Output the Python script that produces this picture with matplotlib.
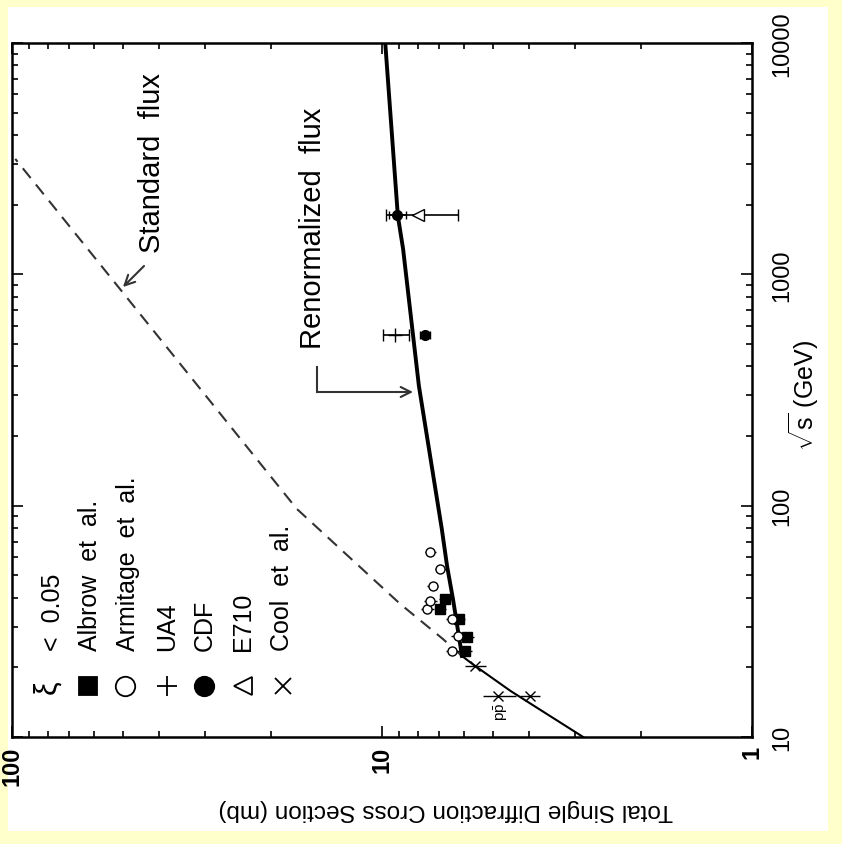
import numpy as np
import matplotlib
matplotlib.use('Agg')
import matplotlib.pyplot as plt
from matplotlib.patches import Rectangle

plt.rcParams['font.family'] = ['Liberation Sans', 'DejaVu Sans']
plt.rcParams['mathtext.fontset'] = 'custom'
plt.rcParams['mathtext.rm'] = 'Liberation Sans'
plt.rcParams['mathtext.it'] = 'Liberation Sans:italic'

# curves (sqrt(s) in GeV, sigma in mb)
common_s = [10, 15.8, 20.7, 22.4]
common_sig = [2.86, 4.49, 5.7, 6.08]
renorm_s = [22.4, 27.4, 39.5, 54.8, 79, 330, 1288, 1786, 10000]
renorm_sig = [6.08, 6.2, 6.43, 6.67, 6.89, 7.95, 8.77, 9.06, 9.8]
standard_s = [22.4, 26.5, 37.6, 96.9, 865, 3155]
standard_sig = [6.08, 6.84, 8.93, 17.0, 51.1, 98.0]

# data points
albrow_s = [23.5, 27.0, 32.4, 35.7, 39.5]
albrow_sig = [5.95, 5.9, 6.2, 6.95, 6.75]
albrow_err = [0.25, 0.25, 0.25, 0.25, 0.25]
armitage_s = [23.5, 27.4, 32.4, 35.7, 38.7, 45.0, 53.0, 63.0]
armitage_sig = [6.45, 6.25, 6.45, 7.55, 7.4, 7.3, 6.95, 7.4]
armitage_err = [0.25, 0.25, 0.25, 0.3, 0.3, 0.25, 0.25, 0.25]
ua4_s = [546]
ua4_sig = [9.2]
ua4_err = [0.75]
cdf_s = [546, 1800]
cdf_sig = [7.65, 9.1]
cdf_err = [0.25, 0.5]
e710_s = [1800]
e710_sig = [8.0]
e710_err = [1.75]
cool_s = [20.3, 15.0, 15.0]
cool_sig = [5.6, 4.85, 3.98]
cool_err = [0.35, 0.5, 0.25]

fig = plt.figure(figsize=(8.42, 8.45), dpi=100)
fig.patch.set_facecolor('#FFFFCC')
fig.patches.append(Rectangle((8/842, 13/845), 820/842, 824/845, transform=fig.transFigure,
                             facecolor='white', edgecolor='none', zorder=-10))

ax = fig.add_axes([12/842, 1 - 738/845, 740/842, 694/845])
ax.set_zorder(5)
ax.set_xscale('log')
ax.set_yscale('log')
ax.set_xlim(100, 1)
ax.set_ylim(10, 10000)

# curves
ax.plot(common_sig, common_s, color='black', lw=1.5)
ax.plot(renorm_sig, renorm_s, color='black', lw=2.8)
ax.plot(standard_sig, standard_s, color='#333333', lw=1.5, dashes=(6, 4))

# data
ax.errorbar(albrow_sig, albrow_s, xerr=albrow_err, fmt='s', color='black', ms=6.5, lw=1, capsize=0)
ax.errorbar(armitage_sig, armitage_s, xerr=armitage_err, fmt='o', mfc='white', mec='black',
            color='black', ms=6.5, lw=1, capsize=0)
ax.errorbar(ua4_sig, ua4_s, xerr=ua4_err, fmt='+', color='black', ms=10, lw=1.2, capsize=4)
ax.errorbar(cdf_sig, cdf_s, xerr=cdf_err, fmt='o', color='black', ms=7, lw=1.2, capsize=3)
ax.errorbar(e710_sig, e710_s, xerr=e710_err, fmt='<', mfc='white', mec='black',
            color='black', ms=9, lw=1.2, capsize=4)
ax.errorbar(cool_sig, cool_s, xerr=cool_err, fmt='x', color='black', ms=7, lw=1, capsize=0)

# ticks
ax.set_xticks([1, 10, 100])
ax.set_xticklabels(['1', '10', '100'], rotation=90, fontweight='bold', fontsize=17)
ax.set_yticks([10, 100, 1000, 10000])
ax.set_yticklabels(['10', '100', '1000', '10000'], rotation=90, fontsize=17, va='center')
ax.tick_params(which='both', direction='in', top=True, bottom=True, left=True, right=True,
               labelleft=False, labelright=True, width=1.2)
ax.tick_params(which='major', length=8)
ax.tick_params(which='minor', length=4)
ax.tick_params(axis='y', pad=14)
ax.tick_params(axis='x', pad=6)
for sp in ax.spines.values():
    sp.set_linewidth(1.8)

fig.text(804/842, 1 - 395/845, r'$\sqrt{\mathregular{s}}$ (GeV)', rotation=90,
         ha='center', va='center', fontsize=18)
fig.text(446/842, 1 - 810/845, 'Total Single Diffraction Cross Section (mb)', rotation=180,
         ha='center', va='center', fontsize=17.5)


def axfrac(px, py):
    return ((px - 12) / 740, (738 - py) / 694)


# annotations
ax.text(*axfrac(152, 163), 'Standard  flux', transform=ax.transAxes, rotation=90,
        ha='center', va='center', fontsize=21)
ax.annotate('', xy=axfrac(121, 290), xycoords='axes fraction', xytext=axfrac(146, 265),
            textcoords='axes fraction',
            arrowprops=dict(arrowstyle='->', color='#333333', lw=1.5, mutation_scale=18))
ax.text(*axfrac(313, 228), 'Renormalized  flux', transform=ax.transAxes, rotation=90,
        ha='center', va='center', fontsize=21)
bx0, by0 = axfrac(317, 368)
bx1, by1 = axfrac(317, 393)
ax.plot([bx0, bx1], [by0, by1], color='#333333', lw=1.5, transform=ax.transAxes)
ax.annotate('', xy=axfrac(413, 393), xycoords='axes fraction', xytext=(bx1, by1),
            textcoords='axes fraction',
            arrowprops=dict(arrowstyle='->', color='#333333', lw=1.5, mutation_scale=18,
                            shrinkA=0, shrinkB=0))
ax.text(*axfrac(501, 712), r'p$\bar{\mathregular{p}}$', transform=ax.transAxes, rotation=90,
        ha='center', va='center', fontsize=11)

# legend drawn by hand (rotated)
leg_x = [47, 88, 125, 167, 204, 243, 283]
leg_labels = ['<  0.05', 'Albrow  et  al.', 'Armitage  et  al.', 'UA4', 'CDF', 'E710', 'Cool  et  al.']
leg_text_x = [53, 90, 128, 167, 205, 243, 282]
ax.text(*axfrac(leg_x[0], 687), '\u03be', transform=ax.transAxes, rotation=90,
        ha='center', va='center', fontsize=22)
marker_styles = [('s', 'black', 13), ('o', 'white', 14), ('+', 'black', 14),
                 ('o', 'black', 14), ('<', 'white', 13), ('x', 'black', 12)]
for i, (m, fc, ms) in enumerate(marker_styles):
    mx, my = axfrac(leg_x[i + 1], 687)
    ax.plot([mx], [my], marker=m, mfc=fc, mec='black', color='black', ms=ms, mew=1.3,
            transform=ax.transAxes, linestyle='none')
for tx, lab in zip(leg_text_x, leg_labels):
    ax.text(*axfrac(tx, 651), lab, transform=ax.transAxes, rotation=90, rotation_mode='anchor',
            ha='left', va='center', fontsize=18)

fig.savefig('out.png', dpi=100, facecolor=fig.get_facecolor())
